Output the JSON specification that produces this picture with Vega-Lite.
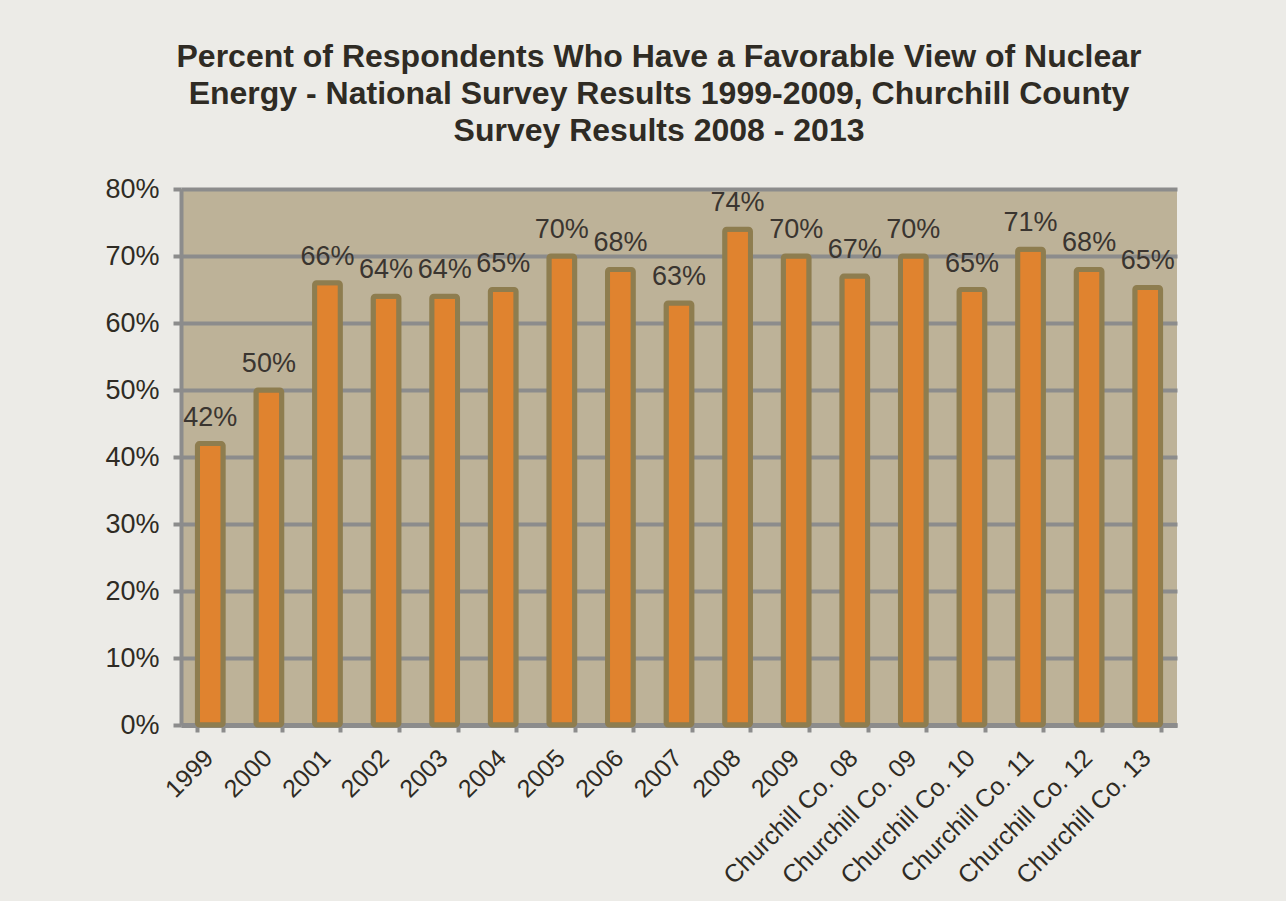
{
  "$schema": "https://vega.github.io/schema/vega-lite/v6.json",
  "autosize": {"type": "none"},
  "padding": {"left": 181, "top": 189, "right": 109, "bottom": 176},
  "width": 996,
  "height": 536,
  "background": "#ECEBE7",
  "title": {
    "text": ["Percent of Respondents Who Have a Favorable View of Nuclear", "Energy - National Survey Results 1999-2009, Churchill County", "Survey Results 2008 - 2013"],
    "font": "Liberation Sans",
    "fontSize": 32,
    "fontWeight": "bold",
    "color": "#2F2B24",
    "lineHeight": 37,
    "anchor": "middle",
    "dx": -20,
    "offset": 27
  },
  "data": {
    "values": [
      {"category": "1999", "pct": 0.42},
      {"category": "2000", "pct": 0.50},
      {"category": "2001", "pct": 0.66},
      {"category": "2002", "pct": 0.64},
      {"category": "2003", "pct": 0.64},
      {"category": "2004", "pct": 0.65},
      {"category": "2005", "pct": 0.70},
      {"category": "2006", "pct": 0.68},
      {"category": "2007", "pct": 0.63},
      {"category": "2008", "pct": 0.74},
      {"category": "2009", "pct": 0.70},
      {"category": "Churchill Co. 08", "pct": 0.67},
      {"category": "Churchill Co. 09", "pct": 0.70},
      {"category": "Churchill Co. 10", "pct": 0.65},
      {"category": "Churchill Co. 11", "pct": 0.71},
      {"category": "Churchill Co. 12", "pct": 0.68},
      {"category": "Churchill Co. 13", "pct": 0.653}
    ]
  },
  "encoding": {
    "x": {
      "field": "category",
      "type": "nominal",
      "sort": null,
      "scale": {"paddingInner": 0.56, "paddingOuter": 0.28},
      "axis": {
        "title": null,
        "labelAngle": -45,
        "labelFont": "Liberation Sans",
        "labelFontSize": 25,
        "labelColor": "#2F2B24",
        "labelPadding": 13,
        "labelOffset": -10,
        "tickBand": "extent",
        "tickColor": "#8C8C8C",
        "tickWidth": 4,
        "tickSize": 7,
        "domainColor": "#8C8C8C",
        "domainWidth": 5,
        "grid": false
      }
    },
    "y": {
      "field": "pct",
      "type": "quantitative",
      "scale": {"domain": [0, 0.8], "nice": false},
      "axis": {
        "title": null,
        "format": ".0%",
        "values": [0, 0.1, 0.2, 0.3, 0.4, 0.5, 0.6, 0.7, 0.8],
        "labelFont": "Liberation Sans",
        "labelFontSize": 27,
        "labelColor": "#2F2B24",
        "labelPadding": 14,
        "tickColor": "#8C8C8C",
        "tickWidth": 4,
        "tickSize": 8,
        "domainColor": "#8C8C8C",
        "domainWidth": 4,
        "grid": true,
        "gridColor": "#8C8C8C",
        "gridWidth": 4,
        "gridOpacity": 1
      }
    }
  },
  "layer": [
    {
      "mark": {"type": "bar", "fill": "#E0832F", "stroke": "#8E7D4F", "strokeWidth": 5, "cornerRadius": 2}
    },
    {
      "mark": {"type": "text", "font": "Liberation Sans", "fontSize": 27, "color": "#3A3530", "baseline": "alphabetic", "dy": -18},
      "encoding": {
        "text": {"field": "pct", "type": "quantitative", "format": ".0%"}
      }
    }
  ],
  "config": {
    "view": {"fill": "#BDB298", "stroke": null}
  }
}
